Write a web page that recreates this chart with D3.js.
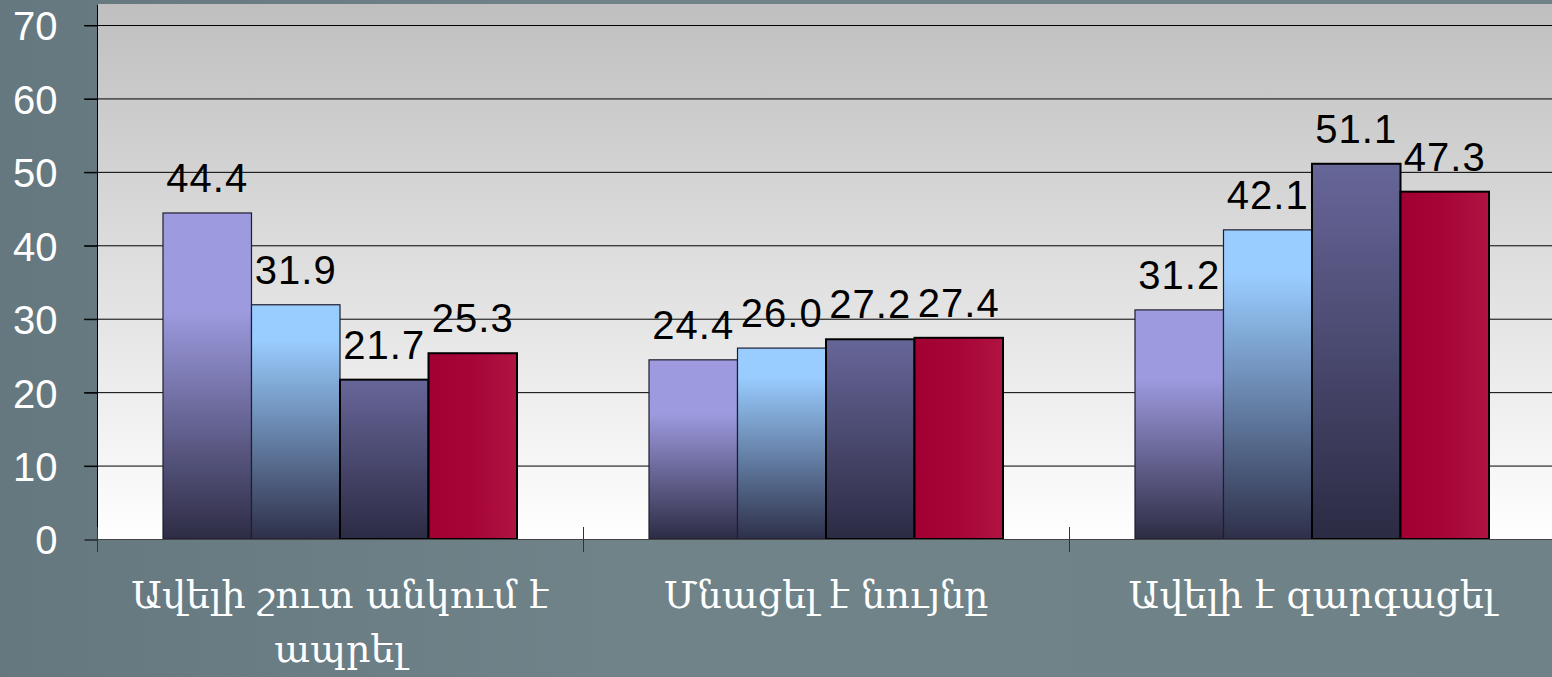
<!DOCTYPE html>
<html>
<head>
<meta charset="utf-8">
<script src="https://cdn.jsdelivr.net/npm/d3@7"></script>
<style>
  html, body { margin: 0; padding: 0; background: #6e8288; overflow: hidden; }
  svg { display: block; }
</style>
</head>
<body>
<script>
var w = 1552;
var h = 677;

var categories = [["Ավելի շուտ անկում է", "ապրել"], ["Մնացել է նույնը"], ["Ավելի է զարգացել"]];
var series1 = [44.4, 24.4, 31.2];
var series2 = [31.9, 26.0, 42.1];
var series3 = [21.7, 27.2, 51.1];
var series4 = [25.3, 27.4, 47.3];
var yTicks = [0, 10, 20, 30, 40, 50, 60, 70];

var seriesList = [series1, series2, series3, series4];
var fmt = d3.format(".1f");

var left = 97, bottom = 539, plotTop = 4;

var x0 = d3.scaleBand()
    .domain(d3.range(categories.length))
    .range([left, 1555]);

var x1 = d3.scaleBand()
    .domain(d3.range(seriesList.length))
    .range([66, 420]);

var y = d3.scaleLinear()
    .domain([0, 70])
    .range([bottom, 25]);

var svg = d3.select("body")
    .append("svg")
    .attr("width", w)
    .attr("height", h);

var defs = svg.append("defs");

// page background, a bit darker on the left
var bg = defs.append("linearGradient").attr("id", "bg")
    .attr("x1", 0).attr("y1", 0).attr("x2", 1).attr("y2", 0);
bg.append("stop").attr("offset", 0).attr("stop-color", "#65787f");
bg.append("stop").attr("offset", 0.4).attr("stop-color", "#6f8389");
bg.append("stop").attr("offset", 1).attr("stop-color", "#6e8288");

var plotGrad = defs.append("linearGradient").attr("id", "plotbg")
    .attr("x1", 0).attr("y1", 0).attr("x2", 0).attr("y2", 1);
plotGrad.append("stop").attr("offset", 0).attr("stop-color", "#bfbfbf");
plotGrad.append("stop").attr("offset", 1).attr("stop-color", "#ffffff");

// bar fills: light at the top, dark at the bottom
var barColors = [
  { top: "#9d9adf", bottom: "#2d2c44", hold: 0.3 },
  { top: "#99ccff", bottom: "#2e3049", hold: 0.15 },
  { top: "#676699", bottom: "#2c2b44", hold: 0.0 }
];
barColors.forEach(function(c, i) {
  var g = defs.append("linearGradient").attr("id", "bar" + i)
      .attr("x1", 0).attr("y1", 0).attr("x2", 0).attr("y2", 1);
  g.append("stop").attr("offset", 0).attr("stop-color", c.top);
  g.append("stop").attr("offset", c.hold).attr("stop-color", c.top);
  g.append("stop").attr("offset", 1).attr("stop-color", c.bottom);
});
var red = defs.append("linearGradient").attr("id", "bar3")
    .attr("x1", 0).attr("y1", 0).attr("x2", 1).attr("y2", 0);
red.append("stop").attr("offset", 0).attr("stop-color", "#a20032");
red.append("stop").attr("offset", 0.5).attr("stop-color", "#a60538");
red.append("stop").attr("offset", 1).attr("stop-color", "#b01441");

svg.append("rect")
    .attr("width", w)
    .attr("height", h)
    .attr("fill", "url(#bg)");

svg.append("rect")
    .attr("x", left)
    .attr("y", plotTop)
    .attr("width", w - left)
    .attr("height", bottom - plotTop)
    .attr("fill", "url(#plotbg)");

// gridlines
svg.selectAll("line.grid")
    .data(yTicks.slice(1))
    .enter()
    .append("line")
    .attr("class", "grid")
    .attr("x1", left - 13)
    .attr("x2", w)
    .attr("y1", function(d) { return y(d) + 0.5; })
    .attr("y2", function(d) { return y(d) + 0.5; })
    .attr("stroke", "#000")
    .attr("stroke-width", 1);

// y axis
var yAxis = d3.axisLeft(y)
    .tickValues(yTicks)
    .tickSize(13)
    .tickPadding(27)
    .tickFormat(d3.format("d"));

var gy = svg.append("g")
    .attr("transform", "translate(" + (left + 0.5) + ",0.5)")
    .call(yAxis);
gy.select(".domain").remove();
gy.append("line")
    .attr("y1", plotTop).attr("y2", bottom + 12)
    .attr("stroke", "#000");
gy.selectAll(".tick line").attr("stroke", "#000");
gy.selectAll(".tick text")
    .attr("fill", "#fff")
    .attr("dy", "0.36em")
    .style("font-family", "Liberation Sans, Arial, sans-serif")
    .style("font-size", "40px");

// bars
var groups = svg.selectAll("g.group")
    .data(categories)
    .enter()
    .append("g")
    .attr("class", "group")
    .attr("transform", function(d, i) { return "translate(" + x0(i) + ",0)"; });

groups.selectAll("rect")
    .data(function(d, i) {
      return seriesList.map(function(s, j) { return { s: j, v: s[i] }; });
    })
    .enter()
    .append("rect")
    .attr("x", function(d) { return x1(d.s); })
    .attr("y", function(d) { return y(d.v); })
    .attr("width", x1.bandwidth())
    .attr("height", function(d) { return bottom - y(d.v); })
    .attr("fill", function(d) { return "url(#bar" + d.s + ")"; })
    .attr("stroke", function(d) { return d.s < 2 ? "#1e1e30" : "#000"; })
    .attr("stroke-width", function(d) { return d.s < 2 ? 1.2 : 2; });

groups.selectAll("text.val")
    .data(function(d, i) {
      return seriesList.map(function(s, j) { return { s: j, v: s[i] }; });
    })
    .enter()
    .append("text")
    .attr("class", "val")
    .attr("x", function(d) { return x1(d.s) + x1.bandwidth() / 2; })
    .attr("y", function(d) { return y(d.v) - 21; })
    .attr("text-anchor", "middle")
    .attr("fill", "#000")
    .style("font-family", "Liberation Sans, Arial, sans-serif")
    .style("font-size", "40px")
    .style("letter-spacing", "1px")
    .text(function(d) { return fmt(d.v); });

// x axis line and ticks
svg.append("line")
    .attr("x1", left).attr("x2", w)
    .attr("y1", bottom + 0.5).attr("y2", bottom + 0.5)
    .attr("stroke", "#444");

svg.selectAll("line.xtick")
    .data(d3.range(categories.length))
    .enter()
    .append("line")
    .attr("class", "xtick")
    .attr("x1", function(d) { return x0(d) + 0.5; })
    .attr("x2", function(d) { return x0(d) + 0.5; })
    .attr("y1", bottom - 12)
    .attr("y2", bottom + 13)
    .attr("stroke", "#333");

// category labels
var cat = svg.selectAll("text.cat")
    .data(categories)
    .enter()
    .append("text")
    .attr("class", "cat")
    .attr("x", function(d, i) { return x0(i) + x0.bandwidth() / 2; })
    .attr("y", 608)
    .attr("text-anchor", "middle")
    .attr("fill", "#fff")
    .style("font-family", "DejaVu Serif, serif")
    .style("font-size", "38px");

cat.selectAll("tspan")
    .data(function(d) { return d; })
    .enter()
    .append("tspan")
    .attr("x", function() { return d3.select(this.parentNode).attr("x"); })
    .attr("dy", function(d, i) { return i === 0 ? 0 : 54; })
    .text(function(d) { return d; });
</script>
</body>
</html>
